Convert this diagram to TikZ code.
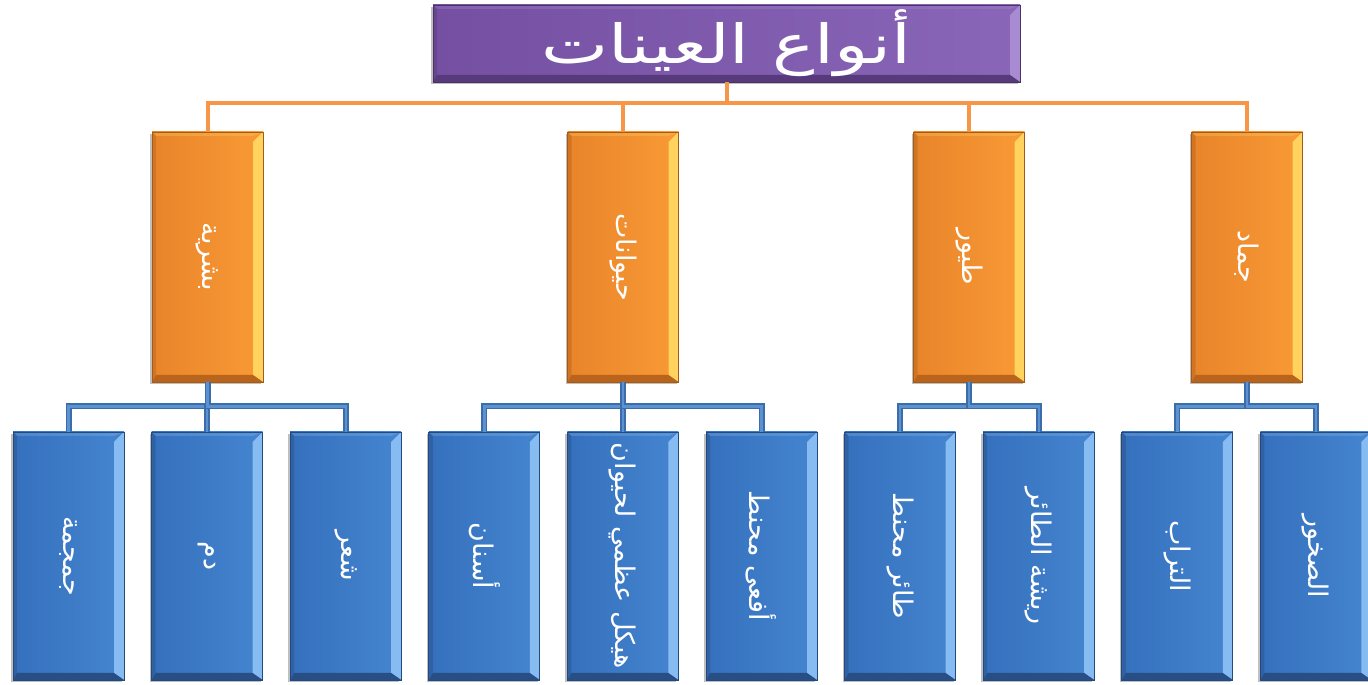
\documentclass[tikz,border=0pt]{standalone}
\usepackage{fontspec}
\usepackage{graphicx}
\newfontfamily\arabicfont[Script=Arabic]{DejaVu Sans}
\TeXXeTstate=1
\usetikzlibrary{calc,shadows}

\definecolor{purpleL}{HTML}{7550A2}
\definecolor{purpleR}{HTML}{8A66B8}
\definecolor{purpleHi}{HTML}{A88BD2}
\definecolor{purpleLo}{HTML}{563A7C}
\definecolor{purpleEdge}{HTML}{4B3269}
\definecolor{orangeL}{HTML}{E8842A}
\definecolor{orangeR}{HTML}{F99A36}
\definecolor{orangeHi}{HTML}{FFD35E}
\definecolor{orangeLo}{HTML}{B8641C}
\definecolor{orangeEdge}{HTML}{A65A18}
\definecolor{blueL}{HTML}{3570BD}
\definecolor{blueR}{HTML}{4585D0}
\definecolor{blueHi}{HTML}{86BCF2}
\definecolor{blueLo}{HTML}{284F85}
\definecolor{blueEdge}{HTML}{234A7E}
\definecolor{orangeWire}{HTML}{F79646}
\definecolor{blueWireOut}{HTML}{3B6EA8}
\definecolor{blueWireIn}{HTML}{5C92D2}

\tikzset{
  % bevelled box: #1 left shade, #2 right shade, #3 light bevel, #4 dark bevel, #5 outline
  bevelbox/.style n args={5}{
    draw=#5, line width=0.7pt, left color=#1, right color=#2,
    drop shadow={shadow xshift=-2pt, shadow yshift=-2.5pt, fill=black, opacity=0.25},
    path picture={
      % top bevel
      \fill[#3, opacity=0.3] (path picture bounding box.north west)
        -- ($(path picture bounding box.north west)+(4pt,-4pt)$)
        -- ($(path picture bounding box.north east)+(-10pt,-4pt)$)
        -- (path picture bounding box.north east) -- cycle;
      % left bevel
      \fill[#4, opacity=0.45] (path picture bounding box.south west)
        -- ($(path picture bounding box.south west)+(4pt,7pt)$)
        -- ($(path picture bounding box.north west)+(4pt,-4pt)$)
        -- (path picture bounding box.north west) -- cycle;
      % right bevel
      \fill[#3] (path picture bounding box.north east)
        -- ($(path picture bounding box.north east)+(-10pt,-10pt)$)
        -- ($(path picture bounding box.south east)+(-10pt,7pt)$)
        -- (path picture bounding box.south east) -- cycle;
      % bottom bevel
      \fill[#4] (path picture bounding box.south west)
        -- ($(path picture bounding box.south west)+(4pt,7pt)$)
        -- ($(path picture bounding box.south east)+(-10pt,7pt)$)
        -- (path picture bounding box.south east) -- cycle;
    },
    text=white, inner sep=0pt
  },
  titlebox/.style={bevelbox={purpleL}{purpleR}{purpleHi}{purpleLo}{purpleEdge},
    minimum width=587pt, minimum height=77pt,
    font=\arabicfont\fontsize{54}{60}\selectfont},
  catbox/.style={bevelbox={orangeL}{orangeR}{orangeHi}{orangeLo}{orangeEdge},
    minimum width=111pt, minimum height=250pt,
    font=\arabicfont\fontsize{27}{31}\selectfont},
  leafbox/.style={bevelbox={blueL}{blueR}{blueHi}{blueLo}{blueEdge},
    minimum width=111pt, minimum height=248pt,
    font=\arabicfont\fontsize{27}{31}\selectfont},
  orangewire/.style={draw=orangeWire, line width=4pt},
  bluewire/.style={draw=blueWireOut, line width=6pt,
    postaction={draw=blueWireIn, line width=2.4pt}}
}

\newcommand{\vtext}[1]{\rotatebox[origin=c]{-90}{\beginR #1\endR}}

\begin{document}
\begin{tikzpicture}[x=1pt,y=1pt]
\useasboundingbox (0,0) rectangle (1368,685);

\coordinate (rootc) at (726.5,641.5);
\coordinate (c1c) at (207.5,428);
\coordinate (c2c) at (623,428);
\coordinate (c3c) at (969,428);
\coordinate (c4c) at (1247,428);

% root
\node[titlebox] (root) at (rootc)
  {\raisebox{-3pt}{\scalebox{1.32}[1]{\beginR أنواع العينات\endR}}};

% categories
\node[catbox] (c1) at (c1c) {\vtext{بشرية}};
\node[catbox] (c2) at (c2c) {\vtext{حيوانات}};
\node[catbox] (c3) at (c3c) {\vtext{طيور}};
\node[catbox] (c4) at (c4c) {\vtext{جماد}};

% leaves
\node[leafbox] (l1) at (68.5,129) {\vtext{جمجمة}};
\node[leafbox] (l2) at (207.1,129) {\vtext{دم}};
\node[leafbox] (l3) at (345.7,129) {\vtext{شعر}};
\node[leafbox] (l4) at (484.3,129) {\vtext{أسنان}};
\node[leafbox] (l5) at (622.9,129) {\vtext{هيكل عظمي لحيوان}};
\node[leafbox] (l6) at (761.5,129) {\vtext{أفعى محنط}};
\node[leafbox] (l7) at (900.1,129) {\vtext{طائر محنط}};
\node[leafbox] (l8) at (1038.7,129) {\vtext{ريشة الطائر}};
\node[leafbox] (l9) at (1177.3,129) {\vtext{التراب}};
\node[leafbox] (l10) at (1315.9,129) {\vtext{الصخور}};

% orange tree wires
\foreach \c in {c1,c2,c3,c4}
  \draw[orangewire] (root.south) -- ++(0,-21) -| (\c.north);

% blue tree wires
\foreach \p/\l in {c1/l1,c1/l2,c1/l3,c2/l4,c2/l5,c2/l6,c3/l7,c3/l8,c4/l9,c4/l10}
  \draw[bluewire] (\p.south) -- ++(0,-24) -| (\l.north);
\end{tikzpicture}
\end{document}
